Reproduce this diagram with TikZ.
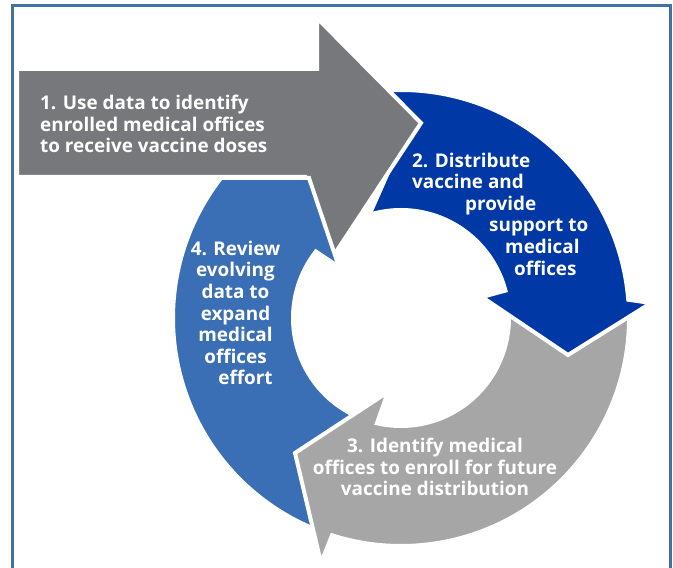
\documentclass[tikz,border=0pt]{standalone}
\usepackage{fontspec}
\setmainfont{Open Sans}
\usepackage{tikz}

\definecolor{frameblue}{HTML}{4470A5}
\definecolor{usegray}{HTML}{76787B}
\definecolor{distnavy}{HTML}{0039A6}
\definecolor{enrollgray}{HTML}{A6A6A6}
\definecolor{reviewblue}{HTML}{3A6FB5}

\tikzset{
  seg/.style={draw=white, line width=4pt, line join=miter},
  lbl/.style={text=white, inner sep=0pt,
    font=\bfseries\fontsize{18.9}{21.6}\selectfont},
}

% ring piece for step 2, drawn twice
\newcommand{\distseg}{(95:228) -- (9,195) -- (107:108)
  arc[start angle=107, end angle=14.7, radius=108]
  -- (81,21) -- (167,-37) -- (250,15) -- (4.6:228)
  arc[start angle=4.6, end angle=95, radius=228] -- cycle}

\begin{document}
\begin{tikzpicture}[x=1pt, y=1pt]
    \useasboundingbox (0,0) rectangle (673,568);
    \draw[frameblue, line width=3pt] (12,-5) -- (12,562) -- (670,562) -- (670,-5);

    % Arrows
    \begin{scope}[shift={(401,250)}]
        \fill[distnavy, seg] \distseg;
    \end{scope}
    \fill[usegray, seg] (17,499) -- (317,499) -- (317,550) -- (421,445)
        -- (332,310) -- (317,323) -- (305,391) -- (17,391) -- cycle;
    \begin{scope}[shift={(401,250)}]
        \fill[reviewblue, seg] (250:228)
            arc[start angle=250, end angle=142.1, radius=228]
            -- (-92,140) -- (-62,51) -- (142:108)
            arc[start angle=142, end angle=250, radius=108] -- cycle;
        \fill[enrollgray, seg] (8:228)
            arc[start angle=8, end angle=-107.6, radius=228]
            -- (-80,-245) -- (-106,-135) -- (-13,-74) -- (-102.9:108)
            arc[start angle=-102.9, end angle=8, radius=108] -- cycle;
        \clip (29,-100) rectangle (300,68);
        \fill[distnavy, seg] \distseg;
    \end{scope}

    % Labels
    \node[lbl, anchor=west, align=left] (t1) at (40,444)
        {1. Use data to identify\\enrolled medical offices\\to receive vaccine doses};
    \node[lbl, anchor=west, align=left] (t2) at (412,354)
        {2. Distribute\\vaccine and\\\hspace*{53pt}provide\\\hspace*{77pt}support to\\
         \hspace*{93pt}medical\\\hspace*{102pt}offices};
    \node[lbl, align=center] (t3) at (435,101)
        {3. Identify medical\\offices to enroll for future\\vaccine distribution};
    \node[lbl, align=center] (t4) at (235.5,255)
        {4. Review\\evolving\\data to\\expand\\medical\\offices\\\hspace*{20pt}effort};
\end{tikzpicture}
\end{document}
